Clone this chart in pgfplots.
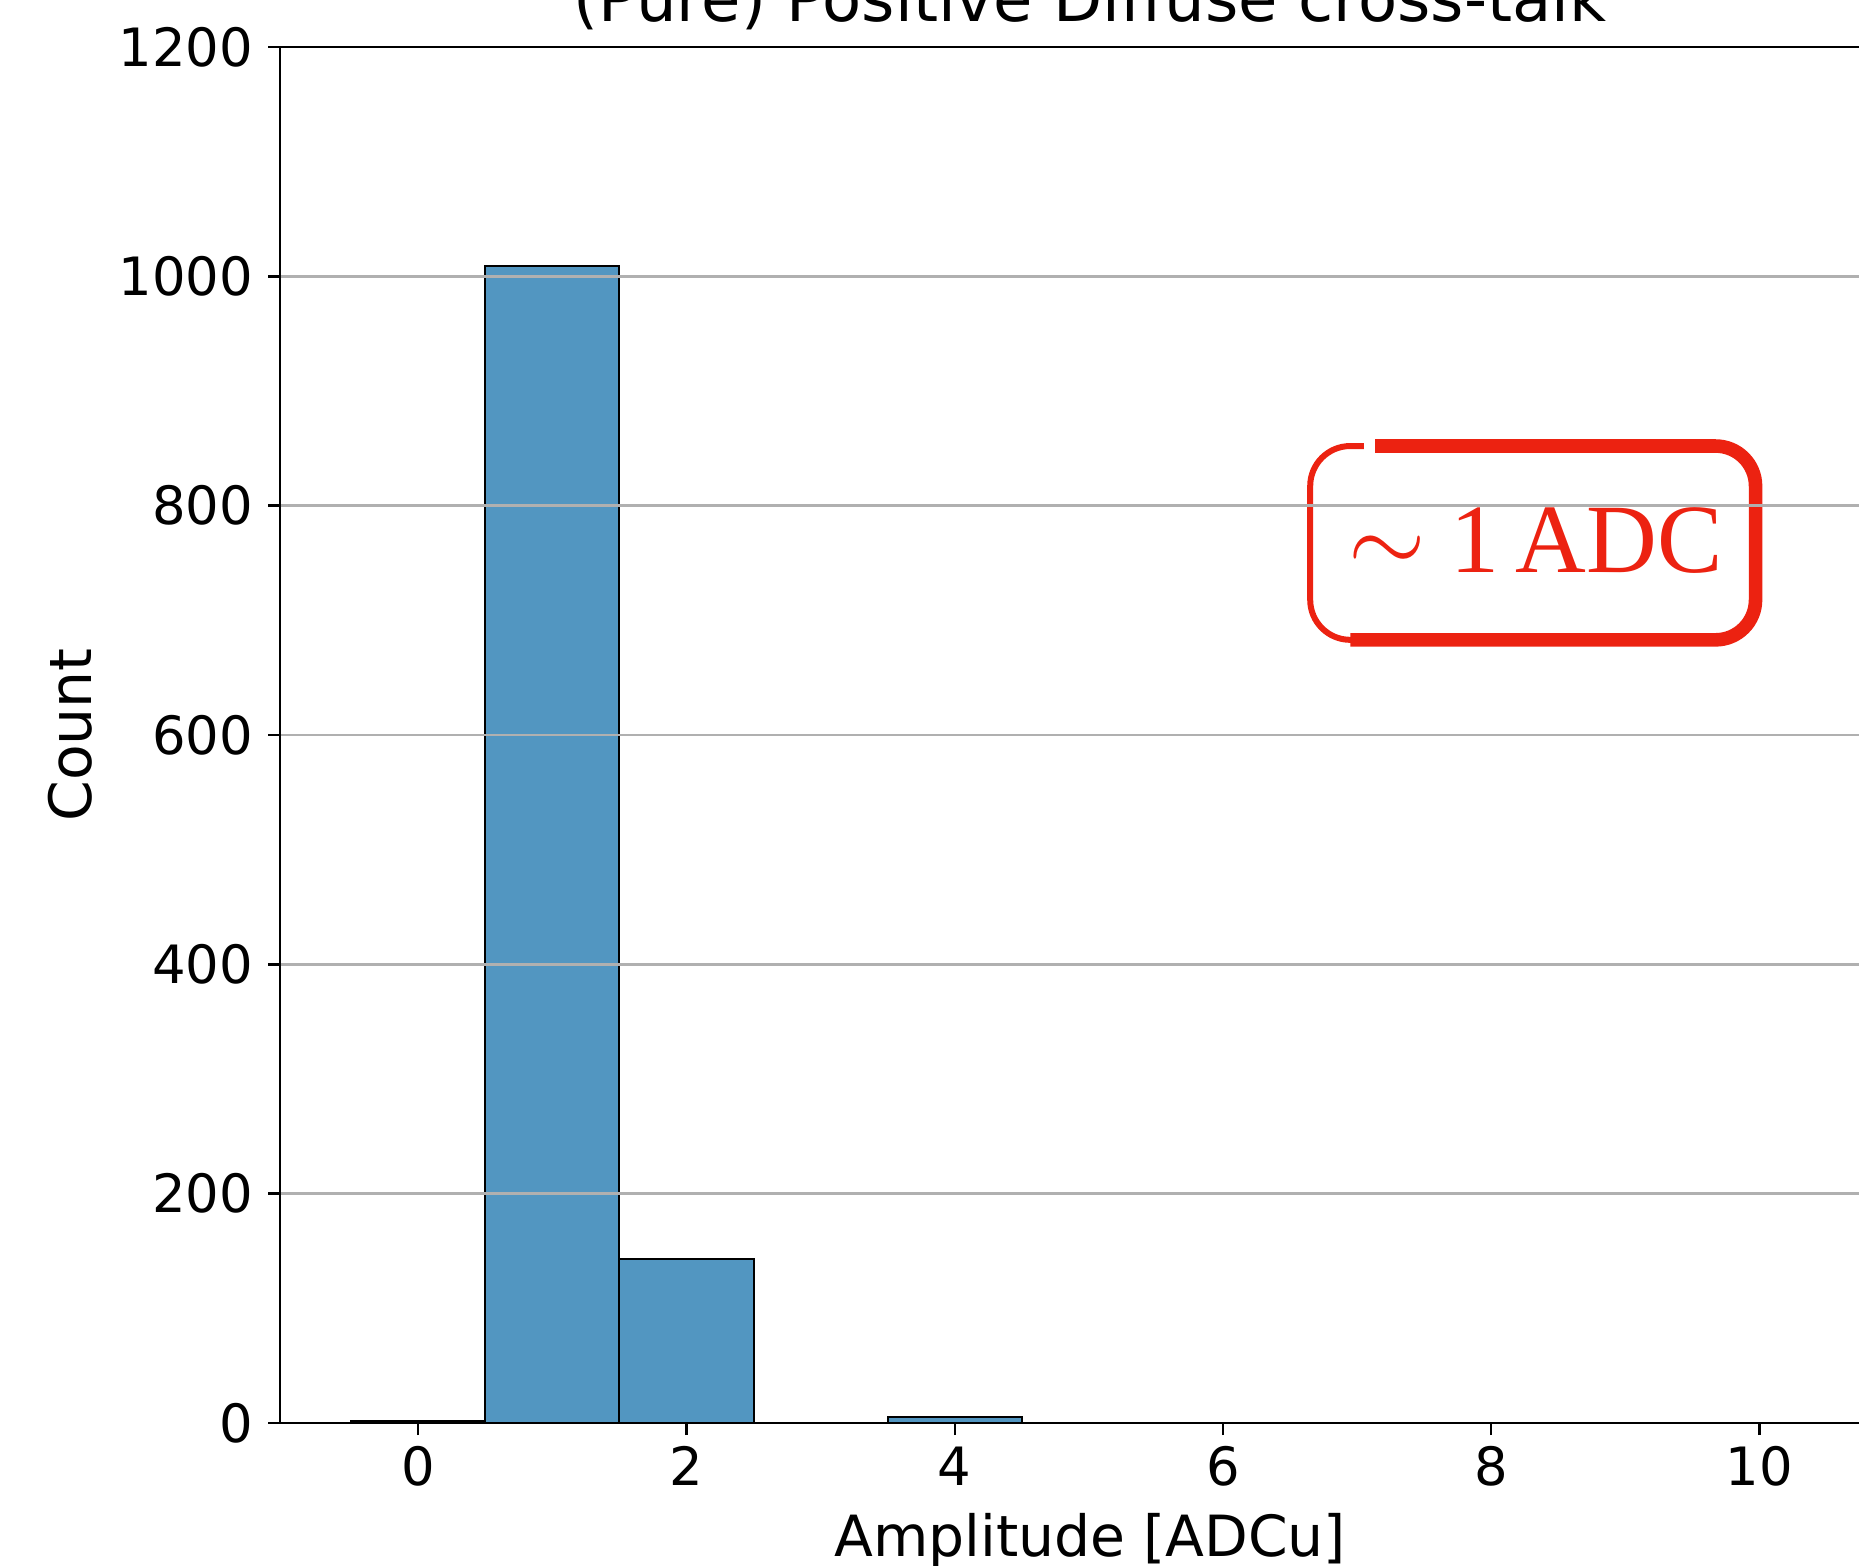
\documentclass[border=0pt]{standalone}
\usepackage{fontspec}
\setmainfont{DejaVu Sans}
\newfontfamily\tnr{Liberation Serif}
\usepackage{pgfplots}
\pgfplotsset{compat=1.18}
\definecolor{barblue}{RGB}{82,150,193}
\definecolor{gridgray}{RGB}{176,176,176}
\definecolor{annred}{RGB}{236,34,17}
\begin{document}
\begin{tikzpicture}
\begin{axis}[
  name=ax,
  scale only axis,
  width=405.1pt, height=344pt,
  xmin=-1.03, xmax=11.05,
  ymin=0, ymax=1200,
  xtick={0,2,4,6,8,10},
  ytick={0,200,400,600,800,1000,1200},
  xtick pos=bottom, ytick pos=left,
  tick align=outside,
  major tick length=3pt,
  tick style={black, line width=0.6pt},
  axis line style={line width=0.6pt},
  ymajorgrids,
  grid style={color=gridgray, line width=0.6pt},
  axis on top,
  /pgf/number format/assume math mode=true,
  /pgf/number format/1000 sep={},
  ticklabel style={font=\fontsize{13.2}{15}\selectfont, inner sep=0pt},
  yticklabel style={anchor=east, xshift=-3.5pt},
  xticklabel style={anchor=north, yshift=-2.7pt},
  title={(Pure) Positive Diffuse cross-talk},
  title style={font=\fontsize{16}{19}\selectfont, at={(axis description cs:0.5,1)}, anchor=base, yshift=0.4pt, inner sep=0pt},
  xlabel={Amplitude [ADCu]},
  xlabel style={font=\fontsize{14.2}{16}\selectfont, at={(axis description cs:0.5,0)}, anchor=base, yshift=-33.25pt, inner sep=0pt},
  ylabel={Count},
  ylabel style={font=\fontsize{14.6}{16}\selectfont, at={(axis description cs:0,0.5)}, anchor=center, yshift=52.5pt, inner sep=0pt},
]
\addplot[ybar interval, fill=barblue, draw=black, line width=0.5pt] coordinates {
  (-0.5,2) (0.5,1009) (1.5,143) (2.5,0) (3.5,5) (4.5,0) (5.5,0) (6.5,0) (7.5,0) (8.5,0) (9.5,0) (10.5,0)
};
\draw[annred, line width=3.4pt, rounded corners=10pt]
  (axis cs:7.134,852) -- (axis cs:9.97,852) -- (axis cs:9.97,683) -- (axis cs:6.95,683);
\draw[annred, line width=1.5pt, rounded corners=10pt]
  (axis cs:7.0,683) -- (axis cs:6.65,683) -- (axis cs:6.65,852) -- (axis cs:7.05,852);
\node[text=annred, font=\tnr\fontsize{24.5}{28}\selectfont, anchor=center] at (axis cs:8.33,769.5) {$\sim$ 1\,ADC};
\end{axis}
\pgfresetboundingbox
\useasboundingbox ([xshift=-70pt,yshift=-35.5pt]ax.south west) rectangle ([xshift=394.75pt,yshift=11.75pt]ax.north west);
\end{tikzpicture}
\end{document}
